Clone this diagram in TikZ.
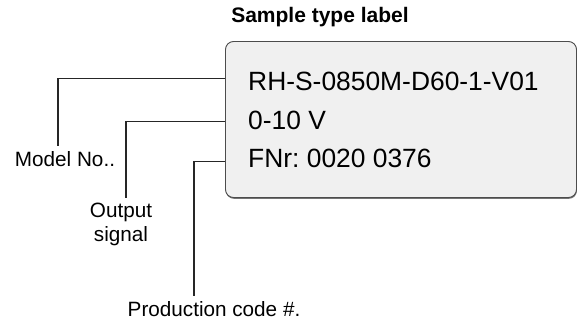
\documentclass[tikz,border=0pt]{standalone}
\usepackage{fontspec}
\setmainfont{Liberation Sans}
\frenchspacing
\usetikzlibrary{positioning, shadows}
\tikzstyle{typelabel} = [rectangle, rounded corners=8pt, minimum width=351pt,
minimum height=156pt, draw=black!70, fill=black!6, line width=0.9pt,
drop shadow={shadow xshift=0.4pt, shadow yshift=-1.3pt, fill=black!55, opacity=1}]
\tikzstyle{plate} = [inner sep=0pt, anchor=base west, font=\fontsize{26.4}{30}\selectfont]
\tikzstyle{caption} = [inner sep=5pt, anchor=base, align=center,
font=\fontsize{20.7}{23.5}\selectfont]
\tikzstyle{heading} = [anchor=base, font=\bfseries\fontsize{21}{25}\selectfont]
\tikzstyle{leader} = [line width=1.2pt, black!85]

\begin{document}
\begin{tikzpicture}[x=1pt, y=-1pt]
    \useasboundingbox (0,0) rectangle (578,322);
    \node (title) [heading] at (320,22.5) {Sample type label};
    \node (box) [typelabel] at (401,119.5) {};
    \node (model) [plate] at (248,90.7) {RH-S-0850M-D60-1-V01};
    \node (signal) [plate] at (248,129) {0-10 V};
    \node (fnr) [plate] at (248,167) {FNr: 0020 0376};

    \node (modelno) [caption] at (65,166) {Model No..};
    \node (output) [caption] at (121,241) {Output\\signal};
    \node (prodcode) [caption] at (214,316) {Production code \#.};

    \draw[leader] ([yshift=3pt]box.west |- model.west) -| ([xshift=-7pt]modelno.north);
    \draw[leader] ([yshift=-1.5pt]box.west |- signal.west) -| ([xshift=5pt]output.north);
    \draw[leader] ([yshift=-3.5pt]box.west |- fnr.west) -| ([xshift=-20pt]prodcode.north);

\end{tikzpicture}
\end{document}
